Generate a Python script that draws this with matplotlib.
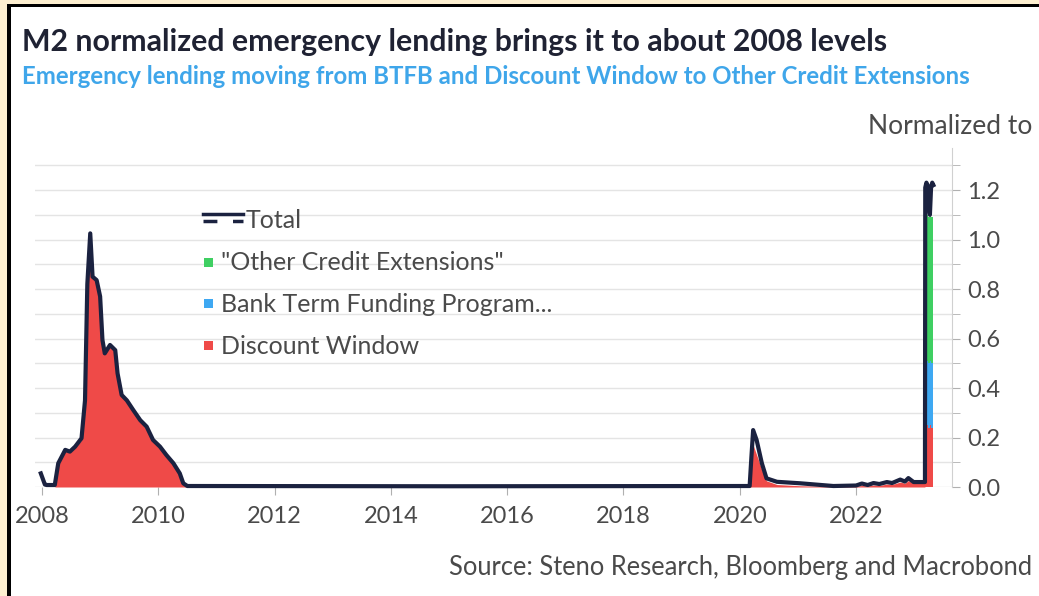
import numpy as np
import matplotlib.pyplot as plt
from matplotlib.lines import Line2D
from matplotlib.patches import Rectangle

# weekly-ish readings, normalized to M2
dates = [2007.98, 2008.05, 2008.08, 2008.22, 2008.28, 2008.40, 2008.48, 2008.57, 2008.68,
         2008.74, 2008.78, 2008.83, 2008.87, 2008.94, 2009.00, 2009.04, 2009.08, 2009.17,
         2009.26, 2009.30, 2009.37, 2009.46, 2009.57, 2009.69, 2009.80, 2009.91, 2010.03,
         2010.14, 2010.26, 2010.37, 2010.43, 2010.50, 2015.00, 2020.17, 2020.20, 2020.23,
         2020.29, 2020.38, 2020.46, 2020.64, 2021.04, 2021.61, 2022.00, 2022.10, 2022.20,
         2022.30, 2022.40, 2022.53, 2022.62, 2022.76, 2022.84, 2022.90, 2022.99, 2023.185]
total = [0.055, 0.01, 0.008, 0.008, 0.096, 0.15, 0.143, 0.163, 0.197,
         0.35, 0.82, 1.025, 0.85, 0.836, 0.77, 0.594, 0.54, 0.574,
         0.553, 0.459, 0.372, 0.35, 0.311, 0.27, 0.244, 0.19, 0.163,
         0.129, 0.096, 0.055, 0.015, 0.004, 0.003, 0.004, 0.12, 0.23,
         0.19, 0.096, 0.035, 0.021, 0.015, 0.004, 0.006, 0.014, 0.008,
         0.016, 0.012, 0.02, 0.016, 0.03, 0.022, 0.036, 0.02, 0.02]
discount_window = [0.0, 0.0, 0.0, 0.0, 0.09, 0.145, 0.14, 0.16, 0.19,
                   0.35, 0.82, 1.02, 0.85, 0.83, 0.77, 0.59, 0.54, 0.57,
                   0.55, 0.455, 0.37, 0.345, 0.31, 0.265, 0.24, 0.185, 0.16,
                   0.125, 0.09, 0.05, 0.01, 0.0, 0.0, 0.0, 0.09, 0.17,
                   0.13, 0.07, 0.025, 0.01, 0.005, 0.002, 0.003, 0.006, 0.004,
                   0.008, 0.006, 0.012, 0.01, 0.02, 0.015, 0.026, 0.015, 0.015]

# March 2023 onwards, stacked by facility
dates_2023 = [2023.185, 2023.19, 2023.21, 2023.23, 2023.25, 2023.27, 2023.29, 2023.31, 2023.33]
total_2023 = [0.02, 1.21, 1.23, 1.22, 1.13, 1.10, 1.21, 1.23, 1.22]
dw_2023 = [0.015, 0.24, 0.25, 0.24, 0.24, 0.25, 0.24, 0.24, 0.24]
btfp_2023 = [0.0, 0.25, 0.26, 0.26, 0.26, 0.26, 0.26, 0.26, 0.26]
oce_2023 = [0.0, 0.58, 0.59, 0.59, 0.59, 0.59, 0.59, 0.59, 0.59]

year_ticks = [2008, 2010, 2012, 2014, 2016, 2018, 2020, 2022]
value_ticks = [0.0, 0.2, 0.4, 0.6, 0.8, 1.0, 1.2]

RED = '#ef4a48'
BLUE = '#3ea8f2'
GREEN = '#3fcf62'
NAVY = '#1b2240'
TXT = '#4a4a4a'

plt.rcParams['font.family'] = ['Lato', 'DejaVu Sans']

W, H = 1039, 596
fig = plt.figure(figsize=(W / 100, H / 100), dpi=100, facecolor='white')

# cream border and black frame
fig.add_artist(Rectangle((0, 0), 7 / W, 1, transform=fig.transFigure, color='#fdefd0', lw=0))
fig.add_artist(Rectangle((0, 1 - 4 / H), 1, 4 / H, transform=fig.transFigure, color='#fdefd0', lw=0))
fig.add_artist(Rectangle((7 / W, 0), 4 / W, 1 - 4 / H, transform=fig.transFigure, color='black', lw=0))
fig.add_artist(Rectangle((7 / W, 1 - 7 / H), 1 - 7 / W, 3 / H, transform=fig.transFigure, color='black', lw=0))

ax = fig.add_axes([35 / W, 1 - 487 / H, (952 - 35) / W, (487 - 148) / H])
ax.set_xlim(2007.88, 2023.65)
ax.set_ylim(0, 1.37)

ax.fill_between(dates, 0, discount_window, color=RED, lw=0)
d23 = np.array(dates_2023)
dw = np.array(dw_2023)
bt = np.array(btfp_2023)
oc = np.array(oce_2023)
ax.fill_between(d23, 0, dw, color=RED, lw=0, step='post')
ax.fill_between(d23, dw, dw + bt, color=BLUE, lw=0, step='post')
ax.fill_between(d23, dw + bt, dw + bt + oc, color=GREEN, lw=0, step='post')
ax.plot(dates + dates_2023[1:], total + total_2023[1:], color=NAVY, lw=3,
        solid_joinstyle='round', clip_on=False, zorder=5)

ax.set_yticks(np.arange(0, 1.35, 0.1), minor=True)
ax.set_yticks(value_ticks)
ax.set_yticklabels([f'{v:.1f}' for v in value_ticks])
ax.yaxis.tick_right()
ax.grid(axis='y', which='both', color='#e4e4e4', lw=1)
ax.set_axisbelow(True)
ax.set_xticks(year_ticks)
ax.set_xticklabels([str(y) for y in year_ticks])
for s in ['top', 'left', 'bottom']:
    ax.spines[s].set_visible(False)
ax.spines['right'].set_color('#d0d0d0')
ax.tick_params(axis='y', which='both', direction='out', length=6, color='#b0b0b0',
               labelsize=17, labelcolor=TXT, pad=5)
ax.tick_params(axis='x', direction='out', length=6, color='#b0b0b0',
               labelsize=17, labelcolor=TXT, pad=8)

# legend drawn by hand
fig.add_artist(Line2D([203 / W, 243 / W], [1 - 214 / H] * 2, color=NAVY, lw=2.5,
                      transform=fig.transFigure))
fig.add_artist(Line2D([203 / W, 243 / W], [1 - 221 / H] * 2, color=NAVY, lw=2.5,
                      dashes=(4, 4.5), transform=fig.transFigure))
fig.text(246 / W, 1 - 220 / H, 'Total', fontsize=18, color=TXT, va='center')
for y, c, lab in [(263, GREEN, '"Other Credit Extensions"'),
                  (304, BLUE, 'Bank Term Funding Program...'),
                  (346, RED, 'Discount Window')]:
    fig.add_artist(Rectangle((204 / W, 1 - (y + 4) / H), 9 / W, 9 / H, color=c, lw=0,
                             transform=fig.transFigure))
    fig.text(221 / W, 1 - y / H, lab, fontsize=18, color=TXT, va='center')

fig.text(22 / W, 1 - 42 / H, 'M2 normalized emergency lending brings it to about 2008 levels',
         fontsize=21.8, fontweight='bold', color='#1f2233', va='center')
fig.text(22 / W, 1 - 76 / H,
         'Emergency lending moving from BTFB and Discount Window to Other Credit Extensions',
         fontsize=17.3, fontweight='bold', color='#3fa6ea', va='center')
fig.text(1032 / W, 1 - 127 / H, 'Normalized to', fontsize=19, color=TXT, va='center', ha='right')
fig.text(1032 / W, 1 - 568 / H, 'Source: Steno Research, Bloomberg and Macrobond',
         fontsize=18.4, color=TXT, va='center', ha='right')

fig.savefig('out.png', dpi=100, facecolor='white')
